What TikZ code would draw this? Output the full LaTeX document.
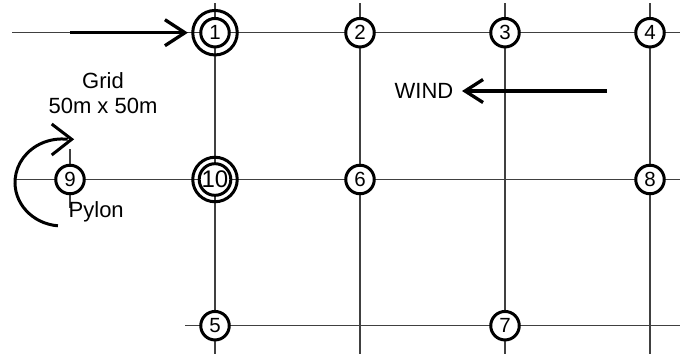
\documentclass[tikz,border=0pt]{standalone}
\usepackage{fontspec}
\setmainfont{Liberation Sans}
\usetikzlibrary{arrows.meta}
\begin{document}
\begin{tikzpicture}[x=1pt,y=1pt,
  gridline/.style={line width=1.1pt, draw=black!75},
  pt/.style={circle, draw=black, line width=3pt, fill=white, inner sep=0pt,
    minimum size=28.5pt, font=\fontsize{20.5}{20.5}\selectfont},
  bigpt/.style={pt, minimum size=30pt, font=\fontsize{24}{24}\selectfont},
  ring/.style={circle, draw=black, line width=3pt, inner sep=0pt, minimum size=44.5pt},
  lbl/.style={inner sep=0pt, font=\fontsize{22}{25}\selectfont},
  bigarrow/.style={line width=3.3pt, -{Straight Barb[length=20pt,width=26pt]}},
  windarrow/.style={line width=3.3pt, -{Straight Barb[length=18pt,width=23pt]}},
  rotarrow/.style={line width=3pt}
]
\useasboundingbox (0,0) rectangle (680,-354);

% grid line end points
\coordinate (t0) at (12,-32.7);   \coordinate (t9) at (680,-32.7);
\coordinate (m0) at (15,-179.5);  \coordinate (m9) at (680,-179.5);
\coordinate (b0) at (185,-325.7); \coordinate (b9) at (680,-325.7);
\coordinate (c1t) at (215,-3); \coordinate (c1b) at (215,-354);
\coordinate (c2t) at (360,-3); \coordinate (c2b) at (360,-354);
\coordinate (c3t) at (505,-3); \coordinate (c3b) at (505,-354);
\coordinate (c4t) at (650,-3); \coordinate (c4b) at (650,-354);
\coordinate (s9t) at (70,-149); \coordinate (s9b) at (70,-208);

\draw[gridline] (t0) -- (t9);
\draw[gridline] (m0) -- (m9);
\draw[gridline] (b0) -- (b9);
\draw[gridline] (c1t) -- (c1b);
\draw[gridline] (c2t) -- (c2b);
\draw[gridline] (c3t) -- (c3b);
\draw[gridline] (c4t) -- (c4b);
\draw[gridline] (s9t) -- (s9b);

% points
\node[pt] (n1) at (215,-32.7) {1};
\node[ring] (ring1) at (215,-32.7) {};
\node[pt] (n2) at (360,-32.7) {2};
\node[pt] (n3) at (505,-32.7) {3};
\node[pt] (n4) at (650,-32.7) {4};
\node[pt] (n9) at (70,-179.5) {9};
\node[bigpt] (n10) at (215,-179.5) {10};
\node[ring] (ring10) at (215,-179.5) {};
\node[pt] (n6) at (360,-179.5) {6};
\node[pt] (n8) at (650,-179.5) {8};
\node[pt] (n5) at (215,-325.7) {5};
\node[pt] (n7) at (505,-325.7) {7};

% labels
\node[lbl, anchor=base] (grid1) at (103,-88.3) {Grid};
\node[lbl, anchor=base] (grid2) at (103,-113.3) {50m x 50m};
\node[lbl, anchor=east] (wind) at (453.5,-91) {WIND};
\node[lbl, anchor=base west] (pylon) at (68.5,-217.3) {Pylon};

% arrows
\coordinate (a1s) at (70,-32.7);
\draw[bigarrow, shorten >=3.3pt] (a1s) -- (ring1.west);
\coordinate (ws) at (607,-91);
\draw[windarrow, shorten >=8.5pt] (ws) -- (wind.east);

% rotation arrow
\coordinate (rs) at (57.9,-225.8);
\draw[rotarrow] (rs) arc[start angle=265, end angle=83, x radius=47, y radius=43.5];
\draw[rotarrow, line join=miter] (51.7,-124) -- (71.7,-139.3) -- (51.7,-155);
\end{tikzpicture}
\end{document}
